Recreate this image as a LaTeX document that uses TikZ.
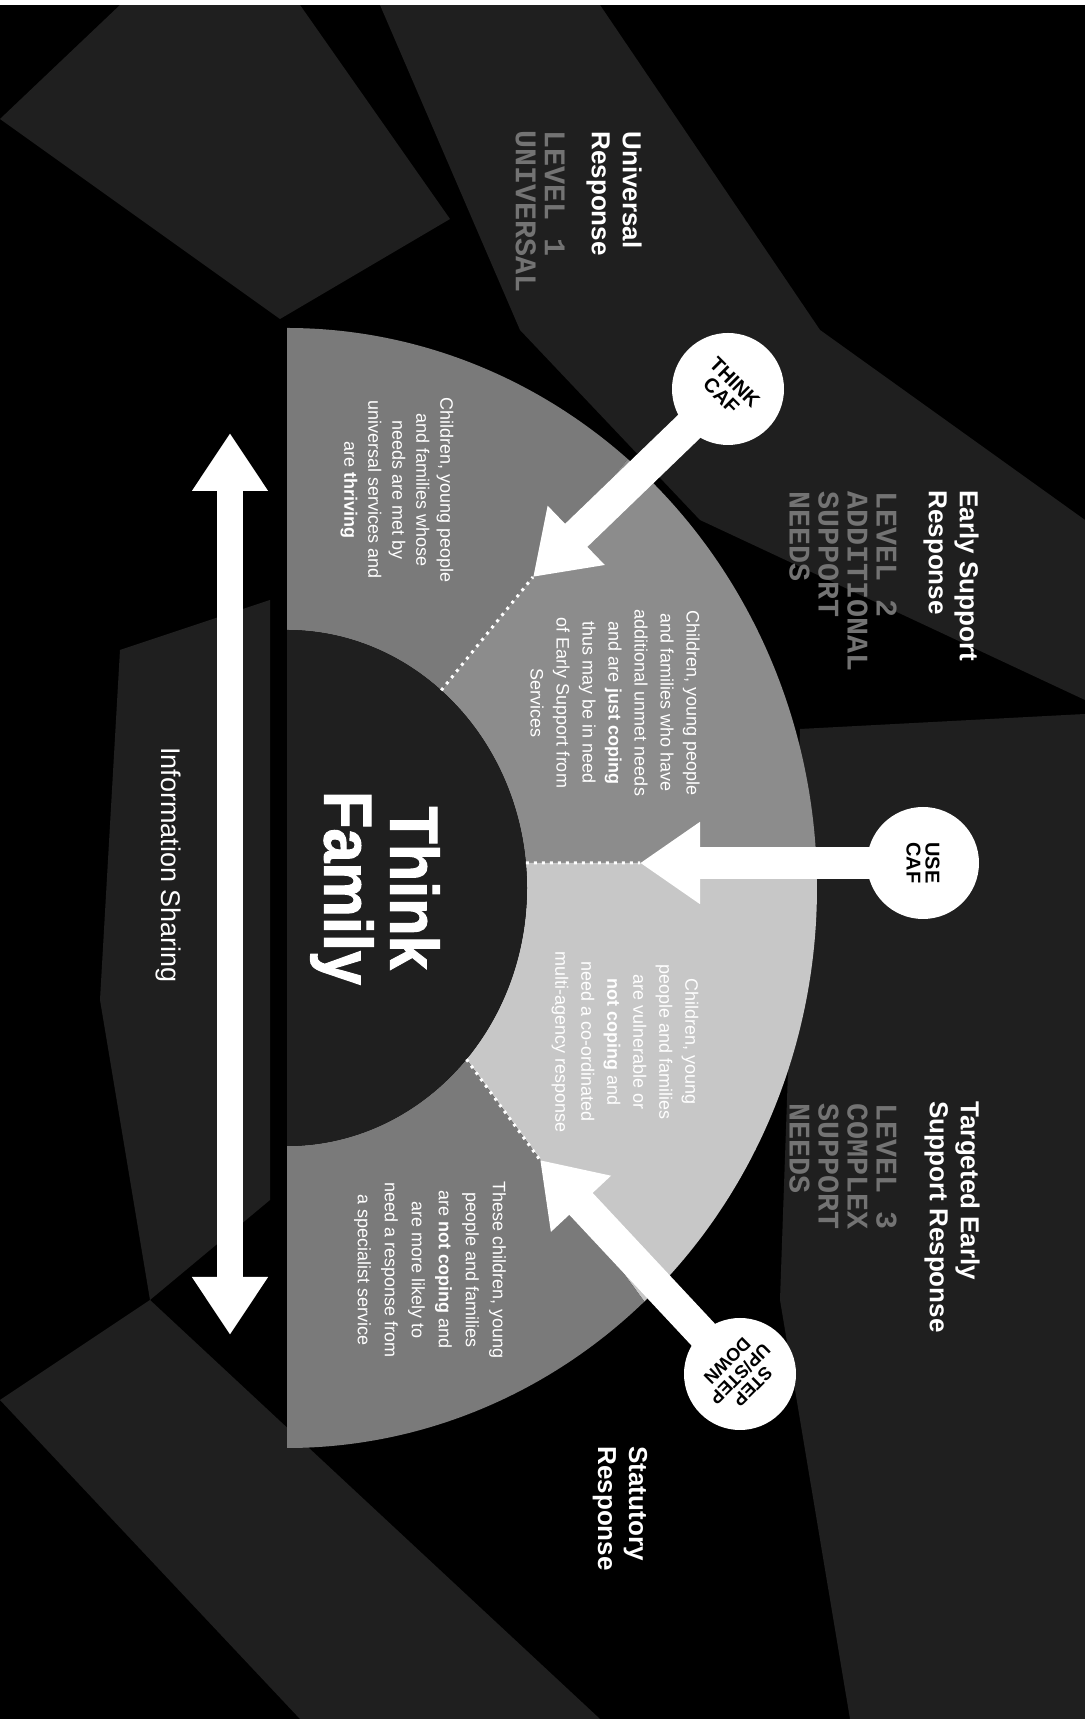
\documentclass[tikz,border=0pt]{standalone}
\usepackage{fontspec}
\setmainfont{Liberation Sans}
\setmonofont{Liberation Mono}
\newfontfamily\heavyfont{Liberation Sans Bold}[FakeBold=1.5, FakeStretch=0.9]
\usetikzlibrary{arrows.meta}

\begin{document}
\begin{tikzpicture}[x=1pt, y=1pt,
   streak/.style={fill=white, fill opacity=0.12},
   divider/.style={draw=white, line width=3pt, dash pattern=on 3pt off 5pt},
   badge/.style={circle, fill=white, minimum size=112pt, inner sep=0pt, align=center,
                 font=\bfseries\fontsize{20}{19}\selectfont},
   heading/.style={rotate=-90, anchor=west, align=left, text=white,
                   font=\bfseries\fontsize{26}{31}\selectfont},
   levelname/.style={rotate=-90, anchor=west, align=left, text=white!45!black,
                     font=\ttfamily\bfseries\fontsize{30}{29}\selectfont},
   blurb/.style={rotate=-90, align=center, text=white}]
   \useasboundingbox (0,0) rectangle (1089,1719);
   \fill[black] (0,0) rectangle (1085,1714);
   \fill[streak] (380,1714) -- (600,1714) -- (820,1389) -- (1085,1199) -- (1085,1019) -- (700,1199) -- (520,1389) -- cycle;
   \fill[streak] (800,990) -- (1085,1005) -- (1085,0) -- (850,0) -- (780,419) -- cycle;
   \fill[streak] (0,319) -- (150,419) -- (600,0) -- (300,0) -- cycle;
   \fill[streak] (120,1069) -- (270,1119) -- (270,519) -- (150,419) -- (100,719) -- cycle;
   \fill[streak] (0,1600) -- (120,1714) -- (300,1714) -- (450,1500) -- (280,1400) -- cycle;

   \begin{scope}[shift={(287,831)}]
    \fill[black!52] (90:530 and 560) arc[start angle=90, end angle=50, x radius=530, y radius=560]
       -- (50:240 and 258) arc[start angle=50, end angle=90, x radius=240, y radius=258] -- cycle;
    \fill[black!45] (50:530 and 560) arc[start angle=50, end angle=2.56, x radius=530, y radius=560]
       -- (5.56:240 and 258) arc[start angle=5.56, end angle=50, x radius=240, y radius=258] -- cycle;
    \fill[black!22] (2.56:530 and 560) arc[start angle=2.56, end angle=-47.6, x radius=530, y radius=560]
       -- (-41.6:240 and 258) arc[start angle=-41.6, end angle=5.56, x radius=240, y radius=258] -- cycle;
    \fill[black!52] (-47.6:530 and 560) arc[start angle=-47.6, end angle=-90, x radius=530, y radius=560]
       -- (-90:240 and 258) arc[start angle=-90, end angle=-41.6, x radius=240, y radius=258] -- cycle;
    \fill[black!88] (90:240 and 258) arc[start angle=90, end angle=-90, x radius=240, y radius=258] -- cycle;
    \coordinate (d1) at (50:240 and 258);
    \coordinate (d2) at (5.56:240 and 258);
    \coordinate (d3) at (-41.6:240 and 258);
   \end{scope}

   \coordinate (tip1) at (533,1142);
   \coordinate (tip2) at (640,856);
   \coordinate (tip3) at (540,559);
   \draw[divider] (d1) -- (tip1);
   \draw[divider] (d2) -- (tip2);
   \draw[divider] (d3) -- (tip3);

   \node[badge, rotate=-45] (thinkcaf) at (728,1330) {THINK\\CAF};
   \node[badge, rotate=-90] (usecaf) at (923,856) {USE\\CAF};
   \node[badge, rotate=-135, font=\bfseries\fontsize{18}{18}\selectfont] (stepud) at (740,345) {STEP\\UP/STEP\\DOWN};

   \begin{scope}[every edge/.style={draw=white, line width=32pt, shorten <=-8pt,
                 -{Triangle[width=78pt,length=60pt]}}]
    \draw (thinkcaf) edge (tip1);
    \draw (usecaf) edge (tip2);
    \draw (stepud) edge (tip3);
   \end{scope}

   \node[rotate=-90, text=white, align=center, font=\heavyfont\fontsize{68}{66}\selectfont] (thinkfam) at (375,831) {Think\\Family};

   \node[blurb, font=\fontsize{18}{24}\selectfont] (lvlonetxt) at (397,1229)
     {Children, young people\\and families whose\\needs are met by\\universal services and\\are \textbf{thriving}};
   \node[blurb, font=\fontsize{18}{26}\selectfont] (lvltwotxt) at (615,1016)
     {Children, young people\\and families who have\\additional unmet needs\\and are \textbf{just coping}\\thus may be in need\\of Early Support from\\Services};
   \node[blurb, font=\fontsize{18}{26}\selectfont] (lvlthreetxt) at (625,677)
     {Children, young\\people and families\\are vulnerable or\\\textbf{not coping} and\\need a co-ordinated\\multi-agency response};
   \node[blurb, font=\fontsize{18}{27}\selectfont] (lvlfourtxt) at (430,449)
     {These children, young\\people and families\\are \textbf{not coping} and\\are more likely to\\need a response from\\a specialist service};

   \node[heading] (univ) at (614,1591) {Universal\\Response};
   \node[levelname] (lvlone) at (540,1592) {LEVEL 1\\UNIVERSAL};
   \node[heading] (early) at (951,1232) {Early Support\\Response};
   \node[levelname] (lvltwo) at (843,1231) {LEVEL 2\\ADDITIONAL\\SUPPORT\\NEEDS};
   \node[heading] (targeted) at (952,621) {Targeted Early\\Support Response};
   \node[levelname] (lvlthree) at (843,619) {LEVEL 3\\COMPLEX\\SUPPORT\\NEEDS};
   \node[heading] (statutory) at (620,276) {Statutory\\Response};

   \coordinate (infotop) at (230,1286);
   \coordinate (infobot) at (230,384);
   \draw[white, line width=26pt, {Triangle[width=72pt,length=58pt]}-{Triangle[width=72pt,length=58pt]}] (infotop) -- (infobot);
   \node[rotate=-90, text=white, font=\fontsize{27}{30}\selectfont] (infolabel) at (168,854) {Information Sharing};
\end{tikzpicture}
\end{document}
